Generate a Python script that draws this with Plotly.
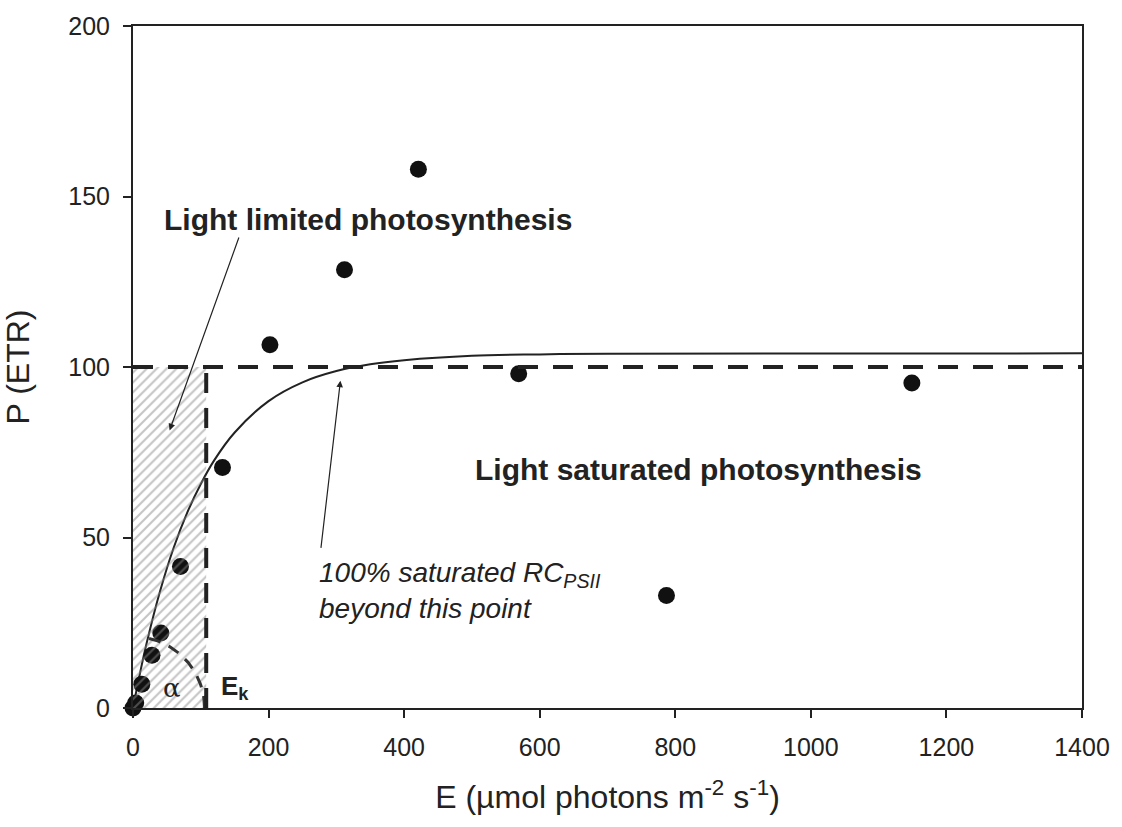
import numpy as np
import plotly.graph_objects as go

# Observed data points (E, P)
E_obs = [0, 4, 13, 28, 41, 70, 132, 202, 312, 421, 569, 787, 1149]
P_obs = [0, 1.5, 7, 15.5, 22, 41.5, 70.5, 106.5, 128.5, 158, 98, 33, 95.3]

# Fitted curve
E_fit = [0, 10, 20, 40, 60, 80, 100, 120, 150, 200, 250, 300, 350, 400, 500, 600, 700, 1400]
P_fit = [0, 9.9, 18.9, 34.3, 47, 57.3, 65.7, 72.7, 80.8, 90, 95.5, 98.8, 100.8, 102, 103.3, 103.7, 103.9, 104]

Ek = 108
P_sat = 100
x_ticks = [0, 200, 400, 600, 800, 1000, 1200, 1400]
y_ticks = [0, 50, 100, 150, 200]

FONT = "Liberation Sans, Arial, sans-serif"
INK = "#222222"

fig = go.Figure()

# curve
fig.add_trace(go.Scatter(x=E_fit, y=P_fit, mode="lines",
                         line=dict(color=INK, width=2), line_shape="spline",
                         hoverinfo="skip", showlegend=False))

# data points
fig.add_trace(go.Scatter(x=E_obs, y=P_obs, mode="markers",
                         marker=dict(color="#111111", size=17),
                         cliponaxis=False, showlegend=False))

# hatched light-limited region
fig.add_trace(go.Scatter(x=[0, Ek, Ek, 0, 0], y=[0, 0, P_sat, P_sat, 0],
                         mode="lines", line=dict(width=0, color="rgba(0,0,0,0)"),
                         fill="toself", fillcolor="rgba(0,0,0,0)",
                         fillpattern=dict(shape="/", fgcolor="#8a8a8a",
                                          bgcolor="rgba(0,0,0,0)", size=7, solidity=0.3),
                         hoverinfo="skip", showlegend=False))

# alpha arc (decoration), in pixel-space circle converted to data units
px_per_x = 955 / 1400
px_per_y = 688 / 200
r_px = 72
theta = np.linspace(0, np.radians(78), 40)
fig.add_trace(go.Scatter(x=r_px * np.cos(theta) / px_per_x,
                         y=r_px * np.sin(theta) / px_per_y,
                         mode="lines", line=dict(color="#333333", width=3, dash="12px,9px"),
                         hoverinfo="skip", showlegend=False))

# dashed lines
fig.add_shape(type="line", x0=0, x1=1400, y0=P_sat, y1=P_sat, xref="x", yref="y",
              line=dict(color=INK, width=4, dash="20px,15px"))
fig.add_shape(type="line", x0=Ek, x1=Ek, y0=0, y1=P_sat, xref="x", yref="y",
              line=dict(color=INK, width=4, dash="20px,15px"))

ann = []
ann.append(dict(x=347, y=143.3, text="<b>Light limited photosynthesis</b>", showarrow=False,
                font=dict(family=FONT, size=30, color=INK)))
ann.append(dict(x=834, y=70, text="<b>Light saturated photosynthesis</b>", showarrow=False,
                font=dict(family=FONT, size=30, color=INK)))
ann.append(dict(x=271, y=34.6, xanchor="left",
                text="<i>100% saturated RC<sub>PSII</sub></i><br><i>beyond this point</i>",
                align="left", showarrow=False, font=dict(family=FONT, size=28, color=INK)))
ann.append(dict(x=57, y=6, text="α", showarrow=False,
                font=dict(family="DejaVu Serif, serif", size=26, color=INK)))
ann.append(dict(x=150, y=6, text="<b>E<sub>k</sub></b>", showarrow=False,
                font=dict(family=FONT, size=26, color=INK)))
# arrows
ann.append(dict(x=54, y=81.4, ax=157, ay=138.4, axref="x", ayref="y", xref="x", yref="y",
                text="", showarrow=True, arrowhead=2, arrowsize=1.1, arrowwidth=1.2,
                arrowcolor=INK))
ann.append(dict(x=306, y=96, ax=277, ay=46.5, axref="x", ayref="y", xref="x", yref="y",
                text="", showarrow=True, arrowhead=2, arrowsize=1.1, arrowwidth=1.2,
                arrowcolor=INK))

fig.update_layout(
    width=1122, height=827, autosize=False,
    margin=dict(l=133, r=34, t=20, b=119),
    paper_bgcolor="white", plot_bgcolor="white",
    font=dict(family=FONT, color=INK),
    annotations=ann,
    showlegend=False,
)
fig.update_xaxes(range=[0, 1400], tickvals=x_ticks, ticks="outside", ticklen=8, tickwidth=2,
                 tickcolor=INK, showline=True, linecolor=INK, linewidth=2, mirror=True,
                 showgrid=False, zeroline=False, tickfont=dict(size=25, family=FONT, color=INK),
                 ticklabelstandoff=8,
                 title=dict(text="E (µmol photons m<sup>-2</sup> s<sup>-1</sup>)",
                            font=dict(size=32, family=FONT, color=INK), standoff=26))
fig.update_yaxes(range=[0, 200], tickvals=y_ticks, ticks="outside", ticklen=8, tickwidth=2,
                 tickcolor=INK, showline=True, linecolor=INK, linewidth=2, mirror=True,
                 showgrid=False, zeroline=False, tickfont=dict(size=25, family=FONT, color=INK),
                 ticklabelstandoff=8,
                 title=dict(text="P (ETR)", font=dict(size=32, family=FONT, color=INK), standoff=30))

fig.write_html("out.html", config={"displayModeBar": False},
               post_script="document.body.style.margin='0';document.body.style.overflow='hidden';")
